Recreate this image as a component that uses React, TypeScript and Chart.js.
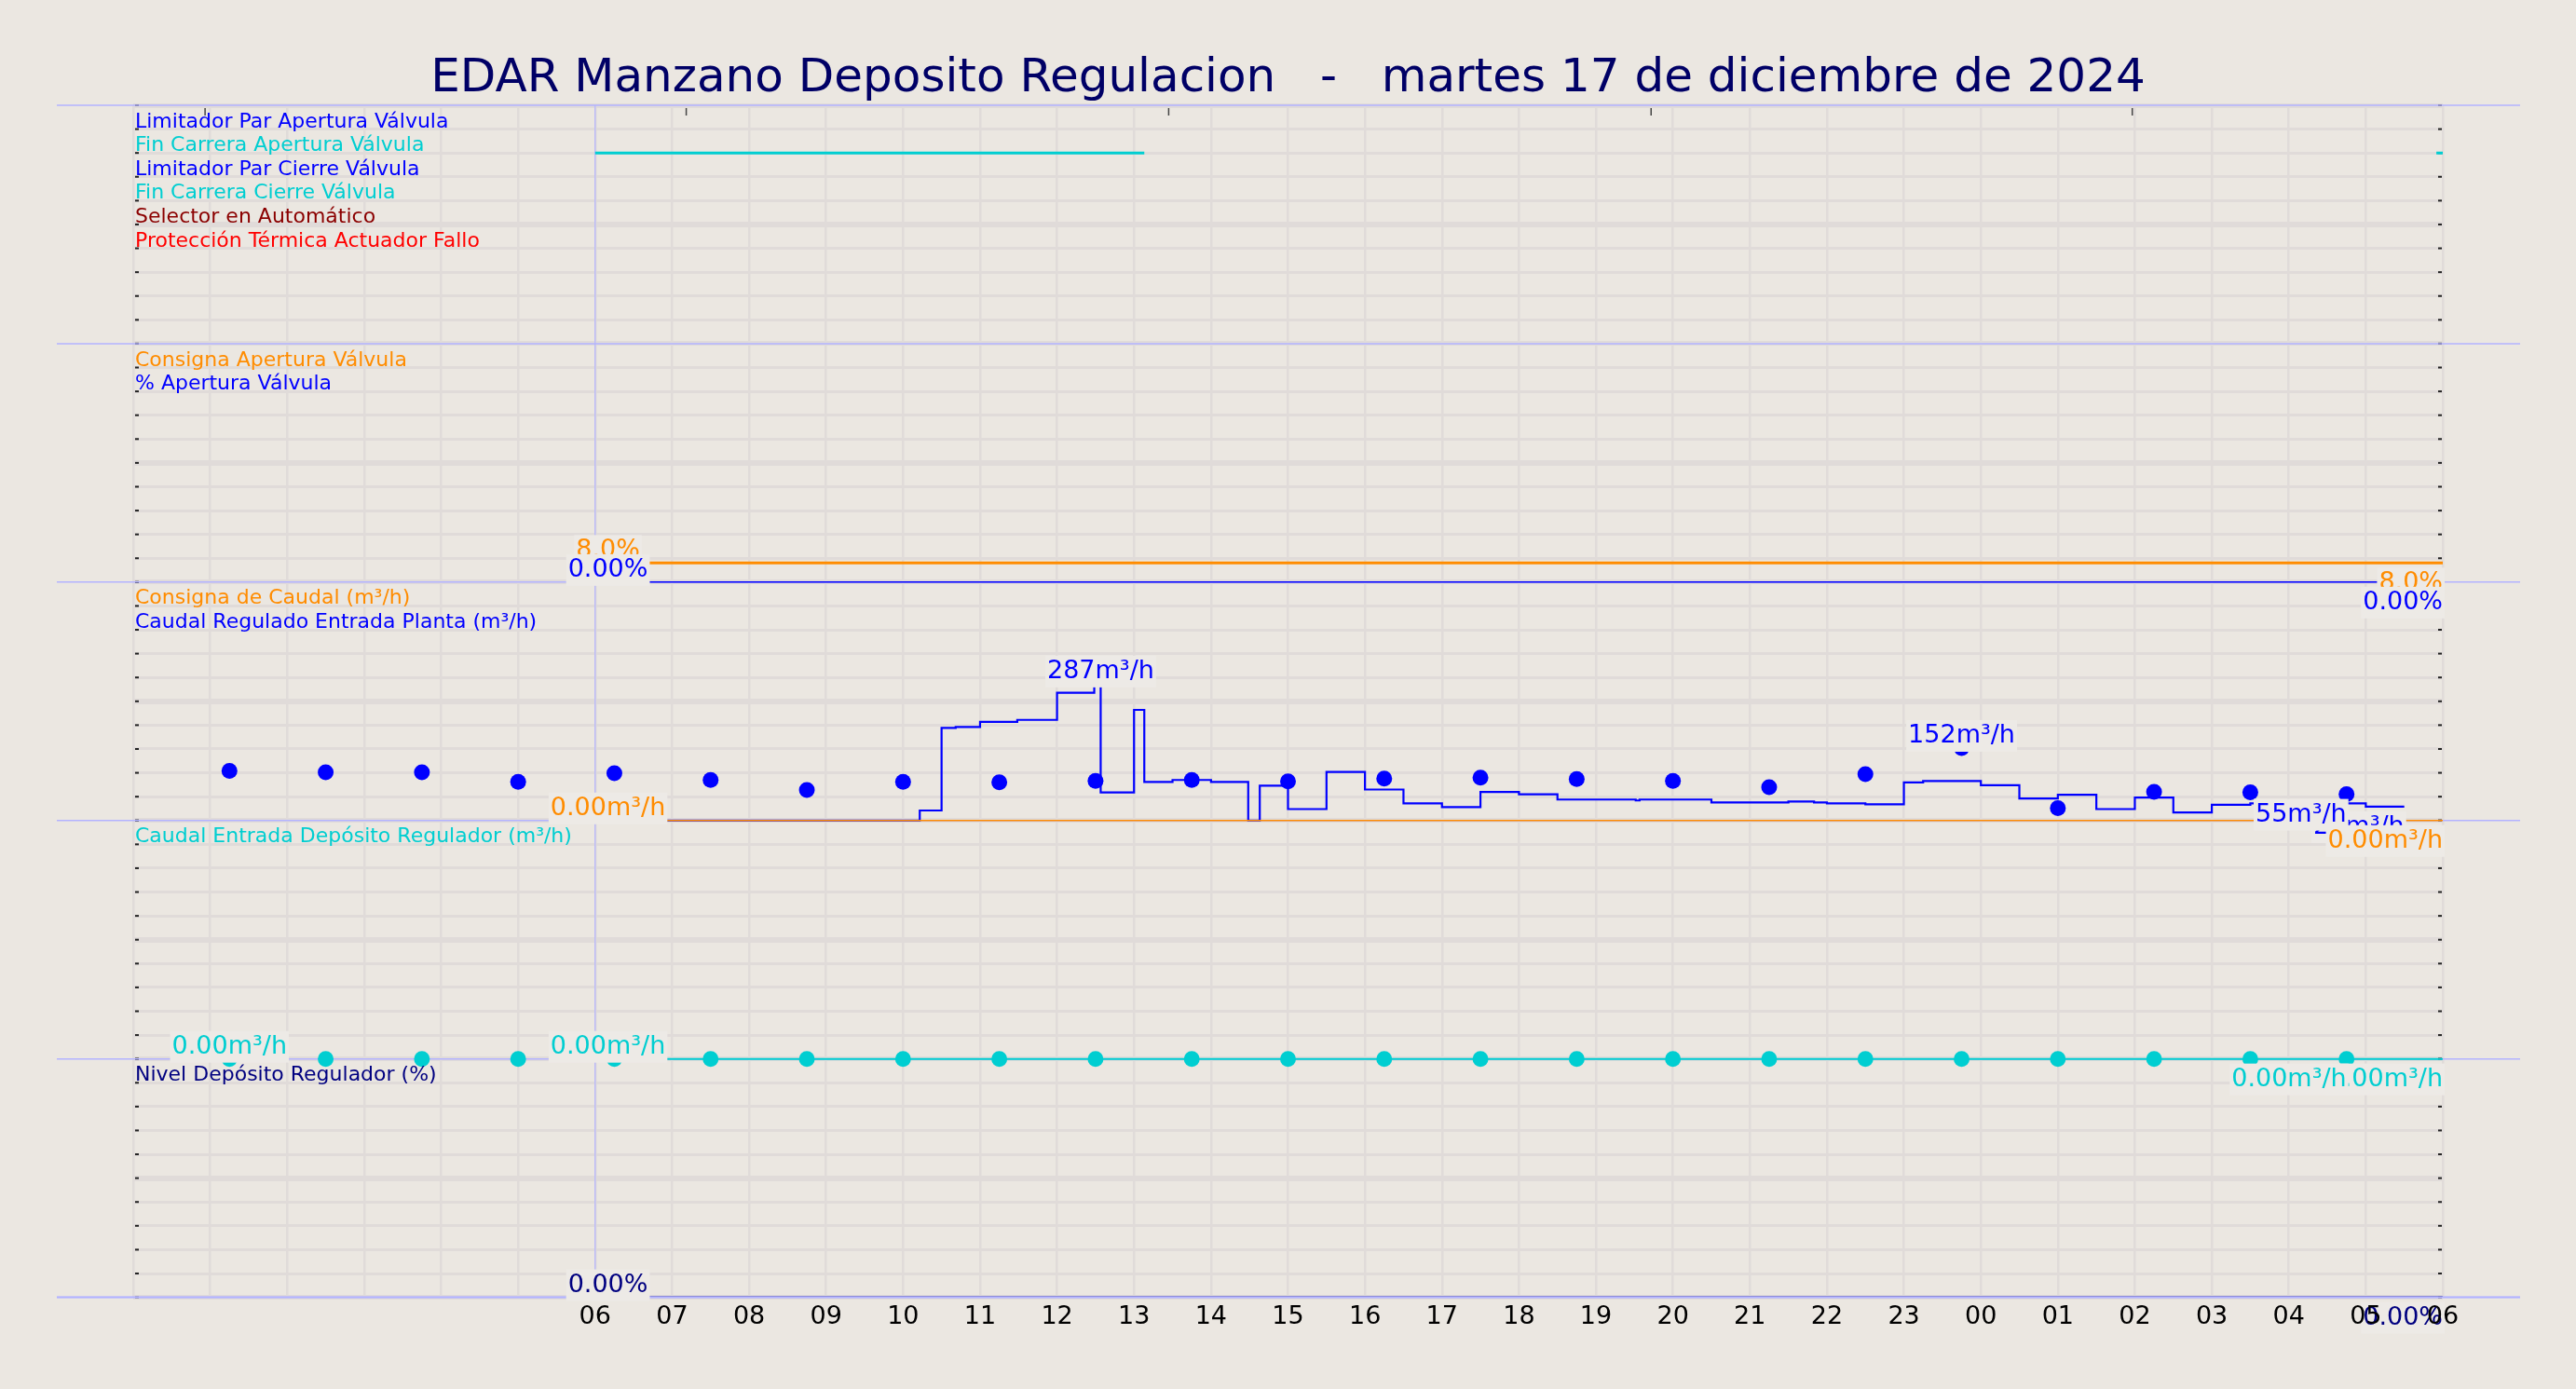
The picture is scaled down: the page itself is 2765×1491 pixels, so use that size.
import React, { useEffect, useRef } from 'react';
import { Chart, registerables } from 'chart.js';

Chart.register(...registerables);

const W = 2765;
const H = 1491;
const FONT = '"DejaVu Sans", "Liberation Sans", sans-serif';
const BG = '#ebe7e1';
const BOX = '#edeae6';
const GRID = '#e0dbd9';
const SEP = '#b3b3ff';
const BLUE = '#0000ff';
const CYAN = '#00ced1';
const ORANGE = '#ff8c00';
const NAVY = '#000080';

const TITLE = 'EDAR Manzano Deposito Regulacion   -   martes 17 de diciembre de 2024';

// ---- axis labels ----
const xTickLabels = ['', '', '', '', '', '', '06', '07', '08', '09', '10', '11', '12', '13', '14', '15', '16', '17', '18', '19', '20', '21', '22', '23', '00', '01', '02', '03', '04', '05', '06'];
const topTickTimes = ['17 00:56', '17 07:11', '17 13:27', '17 19:43', '18 01:58'];
const markerTime = '17 06:00';

// ---- panel 1 : digital signals ----
const signalNames = [
  'Limitador Par Apertura Válvula',
  'Fin Carrera Apertura Válvula',
  'Limitador Par Cierre Válvula',
  'Fin Carrera Cierre Válvula',
  'Selector en Automático',
  'Protección Térmica Actuador Fallo',
];
const signalColors = [BLUE, CYAN, BLUE, CYAN, '#8b0000', '#ff0000'];
const signalOnFrom = [[], ['17 06:00', '18 05:55'], [], [], [], []];
const signalOnTo = [[], ['17 13:08', '18 06:00'], [], [], [], []];

// ---- panel 2 : apertura ----
const aperturaNames = ['Consigna Apertura Válvula', '% Apertura Válvula'];
const consignaAperturaTimes = ['17 06:10', '18 06:00'];
const consignaAperturaValues = [8, 8];
const aperturaTimes = ['17 06:10', '18 06:00'];
const aperturaValues = [0, 0];

// ---- panel 3 : caudal ----
const caudalNames = ['Consigna de Caudal (m³/h)', 'Caudal Regulado Entrada Planta (m³/h)'];
const consignaCaudalTimes = ['17 06:10', '18 06:00'];
const consignaCaudalValues = [0, 0];
const caudalTimes = [
  '17 06:10', '17 10:13', '17 10:30', '17 10:41', '17 11:00', '17 11:29', '17 12:00', '17 12:29',
  '17 12:34', '17 13:00', '17 13:08', '17 13:30', '17 14:00', '17 14:29', '17 14:38', '17 15:00',
  '17 15:30', '17 16:00', '17 16:30', '17 17:00', '17 17:30', '17 18:00', '17 18:30', '17 19:31',
  '17 19:34', '17 20:30', '17 21:30', '17 21:50', '17 22:00', '17 22:30', '17 23:00', '17 23:15',
  '17 23:30', '18 00:00', '18 00:30', '18 01:00', '18 01:30', '18 02:00', '18 02:30', '18 03:00',
  '18 03:30', '18 04:46', '18 05:00', '18 05:30',
];
const caudalValues = [
  0, 0, 21, 194, 196, 207, 211, 268,
  287, 59, 232, 81, 85, 81, 0, 73,
  24, 102, 65, 36, 28, 60, 55, 44,
  42, 44, 38, 40, 38, 36, 34, 80,
  83, 83, 74, 46, 54, 24, 48, 17,
  33, 36, 36, 29,
];
const puntoTimes = [
  '17 01:15', '17 02:30', '17 03:45', '17 05:00', '17 06:15', '17 07:30', '17 08:45', '17 10:00',
  '17 11:15', '17 12:30', '17 13:45', '17 15:00', '17 16:15', '17 17:30', '17 18:45', '17 20:00',
  '17 21:15', '17 22:30', '17 23:45', '18 01:00', '18 02:15', '18 03:30', '18 04:45',
];
const caudalPuntoValues = [104, 101, 101, 81, 99, 85, 64, 81, 80, 83, 85, 82, 88, 90, 87, 83, 70, 97, 152, 26, 60, 59, 55];

// ---- panel 4 : caudal deposito ----
const depositoNames = ['Caudal Entrada Depósito Regulador (m³/h)'];
const depositoTimes = ['17 06:10', '18 06:00'];
const depositoValues = [0, 0];
const depositoPuntoValues = [0, 0, 0, 0, 0, 0, 0, 0, 0, 0, 0, 0, 0, 0, 0, 0, 0, 0, 0, 0, 0, 0, 0];

// ---- panel 5 : nivel ----
const nivelNames = ['Nivel Depósito Regulador (%)'];
const nivelTimes = ['17 06:10', '18 06:00'];
const nivelValues = [0, 0];

// hours since 17 00:00
const t = (s: string): number => {
  const [d, hm] = s.split(' ');
  const [h, m] = hm.split(':').map(Number);
  return (Number(d) - 17) * 24 + h + m / 60;
};
const pts = (times: string[], values: number[]) => times.map((s, i) => ({ x: t(s), y: values[i] }));

const signalPoints = (i: number) => {
  const level = 10 - (i + 1);
  const out: { x: number; y: number | null }[] = [];
  signalOnFrom[i].forEach((s, k) => {
    out.push({ x: t(s), y: level });
    out.push({ x: t(signalOnTo[i][k]), y: level });
    out.push({ x: t(signalOnTo[i][k]), y: null });
  });
  return out;
};

const fmt = (v: number) => (v === 0 ? '0.00' : v < 10 ? v.toFixed(1) : String(Math.round(v)));

type Spec = { key: string; at: 'first' | 'last' | 'max'; pos: 'above' | 'below' };
const valueLabelSpecs: Spec[] = [
  { key: 'consignaApertura', at: 'first', pos: 'above' },
  { key: 'consignaApertura', at: 'last', pos: 'below' },
  { key: 'apertura', at: 'first', pos: 'above' },
  { key: 'apertura', at: 'last', pos: 'below' },
  { key: 'consignaCaudal', at: 'first', pos: 'above' },
  { key: 'caudal', at: 'max', pos: 'above' },
  { key: 'caudal', at: 'last', pos: 'below' },
  { key: 'caudalPuntos', at: 'max', pos: 'above' },
  { key: 'caudalPuntos', at: 'last', pos: 'below' },
  { key: 'consignaCaudal', at: 'last', pos: 'below' },
  { key: 'deposito', at: 'first', pos: 'above' },
  { key: 'deposito', at: 'last', pos: 'below' },
  { key: 'depositoPuntos', at: 'first', pos: 'above' },
  { key: 'depositoPuntos', at: 'last', pos: 'below' },
  { key: 'nivel', at: 'first', pos: 'above' },
  { key: 'nivel', at: 'last', pos: 'below' },
];

const panelIds = ['p1', 'p2', 'p3', 'p4', 'p5'];
const panelTexts = [
  { axis: 'p1', names: signalNames, colors: signalColors },
  { axis: 'p2', names: aperturaNames, colors: [ORANGE, BLUE] },
  { axis: 'p3', names: caudalNames, colors: [ORANGE, BLUE] },
  { axis: 'p4', names: depositoNames, colors: [CYAN] },
  { axis: 'p5', names: nivelNames, colors: [NAVY] },
];

const panelsPlugin = {
  id: 'panels',
  beforeDraw(chart: any) {
    const { ctx } = chart;
    ctx.save();
    ctx.fillStyle = BG;
    ctx.fillRect(0, 0, chart.width, chart.height);
    ctx.restore();
  },
  beforeDatasetsDraw(chart: any) {
    const { ctx, chartArea: a, scales } = chart;
    const line = (x1: number, y1: number, x2: number, y2: number) => {
      ctx.beginPath();
      ctx.moveTo(x1, y1);
      ctx.lineTo(x2, y2);
      ctx.stroke();
    };
    ctx.save();
    ctx.strokeStyle = '#222';
    ctx.lineWidth = 2;
    panelIds.forEach((id) => {
      const s = scales[id];
      s.ticks.forEach((tk: any) => {
        const y = s.getPixelForValue(tk.value);
        line(a.left + 2, y, a.left + 6, y);
        line(a.right - 5, y, a.right - 1, y);
      });
    });
    ctx.strokeStyle = '#444';
    ctx.lineWidth = 1.5;
    topTickTimes.forEach((s) => {
      const x = scales.x.getPixelForValue(t(s));
      line(x, a.top + 3, x, a.top + 11);
    });
    ctx.strokeStyle = SEP;
    ctx.lineWidth = 1.5;
    const ys = [scales.p1.top, ...panelIds.map((id) => scales[id].bottom)];
    ys.forEach((y) => line(a.left - 82, y, a.right + 83, y));
    const x6 = scales.x.getPixelForValue(t(markerTime));
    ctx.lineWidth = 1.2;
    line(x6, a.top, x6, a.bottom);
    ctx.restore();
  },
  afterDatasetsDraw(chart: any) {
    const { ctx, chartArea: a, scales } = chart;
    ctx.save();
    // bottom separator over the level line
    ctx.strokeStyle = SEP;
    ctx.lineWidth = 2;
    ctx.beginPath();
    ctx.moveTo(a.left - 82, scales.p5.bottom);
    ctx.lineTo(a.right + 83, scales.p5.bottom);
    ctx.stroke();

    ctx.font = `22px ${FONT}`;
    ctx.textAlign = 'left';
    ctx.textBaseline = 'alphabetic';
    panelTexts.forEach((p) => {
      const s = scales[p.axis];
      const step = (s.max - s.min) / 10;
      p.names.forEach((name, r) => {
        const y = s.getPixelForValue(s.max - (r + 1) * step) - 2;
        ctx.fillStyle = p.colors[r];
        ctx.fillText(name, a.left + 2, y);
      });
    });
    ctx.font = `27px ${FONT}`;
    valueLabelSpecs.forEach((spec) => {
      const di = chart.data.datasets.findIndex((d: any) => d.key === spec.key);
      if (di < 0) return;
      const ds = chart.data.datasets[di];
      const meta = chart.getDatasetMeta(di);
      const vals = ds.data.map((d: any) => d.y);
      let idx = 0;
      if (spec.at === 'last') idx = vals.length - 1;
      if (spec.at === 'max') idx = vals.indexOf(Math.max(...vals));
      const el = meta.data[idx];
      const text = fmt(vals[idx]) + ds.unit;
      const w = ctx.measureText(text).width;
      const base = spec.pos === 'above' ? el.y - 6 : el.y + 29;
      const left = spec.at === 'last' ? el.x - w : el.x - w / 2;
      ctx.fillStyle = BOX;
      ctx.fillRect(left - 2, base - 24, w + 4, 34);
      ctx.fillStyle = ds.labelColor;
      ctx.fillText(text, left, base);
    });
    ctx.restore();
  },
  afterDraw(chart: any) {
    const { ctx } = chart;
    ctx.save();
    ctx.font = `50px ${FONT}`;
    ctx.fillStyle = '#000066';
    ctx.textAlign = 'center';
    ctx.textBaseline = 'alphabetic';
    ctx.fillText(TITLE, chart.width / 2, 98);
    ctx.restore();
  },
};

const yPanel = (max: number) => ({
  type: 'linear',
  position: 'left',
  stack: 'panels',
  stackWeight: 1,
  min: 0,
  max,
  ticks: { display: false, stepSize: max / 10 },
  grid: {
    color: GRID,
    lineWidth: (c: any) => (c.index === 5 ? 6 : c.index === 0 || c.index === 10 ? 5 : 3),
    drawTicks: false,
  },
  border: { display: false },
});

const lineDs = (key: string, axis: string, data: any, color: string, width: number, unit: string, extra: any = {}) => ({
  key,
  unit,
  labelColor: color,
  yAxisID: axis,
  data,
  borderColor: color,
  backgroundColor: color,
  borderWidth: width,
  pointRadius: 0,
  pointHoverRadius: 0,
  fill: false,
  clip: false,
  ...extra,
});

const dotDs = (key: string, axis: string, data: any, color: string, unit: string) => ({
  key,
  unit,
  labelColor: color,
  yAxisID: axis,
  data,
  showLine: false,
  clip: false,
  borderColor: color,
  backgroundColor: color,
  pointBackgroundColor: color,
  pointBorderWidth: 0,
  pointRadius: 8.5,
  pointHoverRadius: 8.5,
});

export default function App() {
  const ref = useRef<HTMLCanvasElement | null>(null);
  useEffect(() => {
    if (!ref.current) return;
    const datasets: any[] = [
      dotDs('caudalPuntos', 'p3', pts(puntoTimes, caudalPuntoValues), BLUE, 'm³/h'),
      dotDs('depositoPuntos', 'p4', pts(puntoTimes, depositoPuntoValues), CYAN, 'm³/h'),
      ...signalNames.map((n, i) => lineDs('sig' + i, 'p1', signalPoints(i), signalColors[i], 3, '')),
      lineDs('consignaApertura', 'p2', pts(consignaAperturaTimes, consignaAperturaValues), ORANGE, 3, '%'),
      lineDs('apertura', 'p2', pts(aperturaTimes, aperturaValues), BLUE, 1.5, '%'),
      lineDs('consignaCaudal', 'p3', pts(consignaCaudalTimes, consignaCaudalValues), ORANGE, 1.5, 'm³/h'),
      lineDs('caudal', 'p3', pts(caudalTimes, caudalValues), BLUE, 2.2, 'm³/h', { stepped: 'after' }),
      lineDs('deposito', 'p4', pts(depositoTimes, depositoValues), CYAN, 2, 'm³/h'),
      lineDs('nivel', 'p5', pts(nivelTimes, nivelValues), NAVY, 2, '%', { clip: undefined }),
    ];
    const chart = new Chart(ref.current, {
      type: 'line',
      data: { datasets },
      plugins: [panelsPlugin],
      options: {
        animation: false,
        responsive: false,
        maintainAspectRatio: false,
        devicePixelRatio: 1,
        events: [],
        layout: { padding: { left: 143, right: 143, top: 113, bottom: 56 } },
        plugins: { legend: { display: false }, tooltip: { enabled: false }, title: { display: false } },
        scales: {
          x: {
            type: 'linear',
            position: 'bottom',
            min: 0,
            max: 30,
            ticks: {
              z: 1,
              stepSize: 1,
              autoSkip: false,
              maxRotation: 0,
              padding: 5,
              color: '#000',
              font: { family: FONT, size: 27 },
              callback: (v: any) => xTickLabels[Math.round(Number(v))] ?? '',
            },
            grid: { color: GRID, lineWidth: 2.5, drawTicks: false },
            border: { display: false },
          },
          p5: yPanel(100),
          p4: yPanel(500),
          p3: yPanel(500),
          p2: yPanel(100),
          p1: yPanel(10),
        } as any,
      } as any,
    });
    return () => chart.destroy();
  }, []);
  return (
    <div style={{ position: 'fixed', left: 0, top: 0, width: W, height: H, background: BG }}>
      <canvas ref={ref} width={W} height={H} style={{ width: W, height: H, display: 'block' }} />
    </div>
  );
}
